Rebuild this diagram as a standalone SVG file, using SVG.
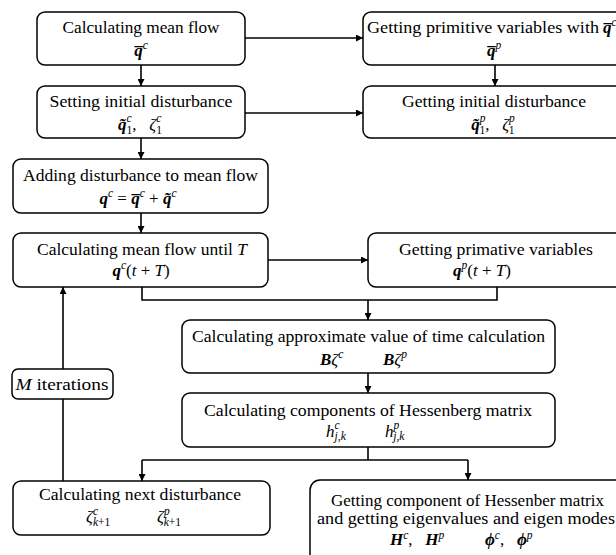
<svg xmlns="http://www.w3.org/2000/svg" width="616" height="555" viewBox="0 0 616 555">
<defs>
<style>
.box{fill:#fff;stroke:#000;stroke-width:1.5}
.t{font-family:"Liberation Serif",serif;font-size:17.3px;fill:#000;text-anchor:middle}
.m{font-family:"Liberation Serif",serif;font-size:17px;font-style:italic;fill:#000;text-anchor:middle}
.b{font-weight:bold}
.s{font-size:11.5px}
.ln{fill:none;stroke:#000;stroke-width:1.6}
</style>
<marker id="ah" viewBox="0 0 10 10" refX="10" refY="5" markerWidth="7" markerHeight="7" markerUnits="userSpaceOnUse" orient="auto">
<path d="M0,0 L10,5 L0,10 Z" fill="#000"/>
</marker>
</defs>
<rect width="616" height="555" fill="#fff"/>

<g id="connectors">
<path class="ln" d="M141,65 V86" marker-end="url(#ah)"/>
<path class="ln" d="M245,38 H363" marker-end="url(#ah)"/>
<path class="ln" d="M245,113 H363" marker-end="url(#ah)"/>
<path class="ln" d="M495,65 V86" marker-end="url(#ah)"/>
<path class="ln" d="M141,138 V159" marker-end="url(#ah)"/>
<path class="ln" d="M141,213 V233" marker-end="url(#ah)"/>
<path class="ln" d="M268,260 H368" marker-end="url(#ah)"/>
<path class="ln" d="M142,287 V300 H497 V287"/>
<path class="ln" d="M368,300 V320" marker-end="url(#ah)"/>
<path class="ln" d="M368,373 V393" marker-end="url(#ah)"/>
<path class="ln" d="M368,447 V460"/>
<path class="ln" d="M142,460 H468"/>
<path class="ln" d="M142,460 V481" marker-end="url(#ah)"/>
<path class="ln" d="M468,460 V480" marker-end="url(#ah)"/>
<path class="ln" d="M63,481 V399"/>
<path class="ln" d="M63,369 V287" marker-end="url(#ah)"/>
</g>

<g id="n1">
<rect class="box" x="37" y="12" width="208" height="53" rx="8"/>
<text class="t" x="141" y="33" textLength="157" lengthAdjust="spacingAndGlyphs">Calculating mean flow</text>
<text class="m" x="141" y="56"><tspan class="b">q̅</tspan><tspan class="s" dy="-7">c</tspan></text>
</g>

<g id="n2">
<rect class="box" x="37" y="86" width="208" height="52" rx="8"/>
<text class="t" x="141" y="107" textLength="183" lengthAdjust="spacingAndGlyphs">Setting initial disturbance</text>
<text class="m" x="140" y="130"><tspan class="b">q̃</tspan><tspan class="s" dy="-8">c</tspan><tspan class="s" dx="-5" dy="12" font-style="normal">1</tspan><tspan dy="-4" font-style="normal">,&#160;&#160;&#160;</tspan>ζ<tspan class="s" dy="-8">c</tspan><tspan class="s" dx="-5" dy="12" font-style="normal">1</tspan></text>
</g>

<g id="n3">
<rect class="box" x="363" y="12" width="262" height="53" rx="8"/>
<text class="t" x="367" y="33" style="text-anchor:start" textLength="232" lengthAdjust="spacingAndGlyphs">Getting primitive variables with</text>
<text class="m" x="603" y="33" style="text-anchor:start"><tspan class="b">q̅</tspan><tspan class="s" dy="-7">c</tspan></text>
<text class="m" x="494" y="56"><tspan class="b">q̅</tspan><tspan class="s" dy="-7">p</tspan></text>
</g>

<g id="n4">
<rect class="box" x="363" y="86" width="262" height="52" rx="8"/>
<text class="t" x="494" y="107" textLength="184" lengthAdjust="spacingAndGlyphs">Getting initial disturbance</text>
<text class="m" x="493" y="130"><tspan class="b">q̃</tspan><tspan class="s" dy="-8">p</tspan><tspan class="s" dx="-6" dy="12" font-style="normal">1</tspan><tspan dy="-4" font-style="normal">,&#160;&#160;&#160;</tspan>ζ<tspan class="s" dy="-8">p</tspan><tspan class="s" dx="-6" dy="12" font-style="normal">1</tspan></text>
</g>

<g id="n5">
<rect class="box" x="13" y="159" width="255" height="54" rx="8"/>
<text class="t" x="140.5" y="181" textLength="235" lengthAdjust="spacingAndGlyphs">Adding disturbance to mean flow</text>
<text class="m" x="138" y="204"><tspan class="b">q</tspan><tspan class="s" dy="-7">c</tspan><tspan dy="7" font-style="normal">&#160;=&#160;</tspan><tspan class="b">q̅</tspan><tspan class="s" dy="-7">c</tspan><tspan dy="7" font-style="normal">&#160;+&#160;</tspan><tspan class="b">q̃</tspan><tspan class="s" dy="-7">c</tspan></text>
</g>

<g id="n6">
<rect class="box" x="13" y="233" width="255" height="54" rx="8"/>
<text class="t" x="142" y="255" textLength="210" lengthAdjust="spacingAndGlyphs">Calculating mean flow until <tspan font-style="italic">T</tspan></text>
<text class="m" x="141" y="276"><tspan class="b">q</tspan><tspan class="s" dy="-7">c</tspan><tspan dy="7" font-style="normal">(</tspan>t<tspan font-style="normal">&#160;+&#160;</tspan>T<tspan font-style="normal">)</tspan></text>
</g>

<g id="n7">
<rect class="box" x="368" y="233" width="256" height="54" rx="8"/>
<text class="t" x="496" y="255" textLength="194" lengthAdjust="spacingAndGlyphs">Getting primative variables</text>
<text class="m" x="482" y="276"><tspan class="b">q</tspan><tspan class="s" dy="-7">p</tspan><tspan dy="7" font-style="normal">(</tspan>t<tspan font-style="normal">&#160;+&#160;</tspan>T<tspan font-style="normal">)</tspan></text>
</g>

<g id="n8">
<rect class="box" x="182" y="320" width="373" height="53" rx="8"/>
<text class="t" x="368.5" y="342" textLength="353" lengthAdjust="spacingAndGlyphs">Calculating approximate value of time calculation</text>
<text class="m" x="320" y="365" style="text-anchor:start"><tspan class="b">B</tspan>ζ<tspan class="s" dy="-7">c</tspan></text>
<text class="m" x="383" y="365" style="text-anchor:start"><tspan class="b">B</tspan>ζ<tspan class="s" dy="-7">p</tspan></text>
</g>

<g id="n9">
<rect class="box" x="182" y="393" width="373" height="54" rx="8"/>
<text class="t" x="368" y="416" textLength="328" lengthAdjust="spacingAndGlyphs">Calculating components of Hessenberg matrix</text>
<text class="m" x="326" y="437" style="text-anchor:start">h<tspan class="s" dy="-8">c</tspan><tspan class="s" dx="-5" dy="11">j,k</tspan></text>
<text class="m" x="385" y="437" style="text-anchor:start">h<tspan class="s" dy="-8">p</tspan><tspan class="s" dx="-6" dy="11">j,k</tspan></text>
</g>

<g id="n10">
<rect class="box" x="12" y="369" width="101" height="30" rx="6"/>
<text class="t" x="62" y="390" textLength="93" lengthAdjust="spacingAndGlyphs"><tspan font-style="italic">M</tspan> iterations</text>
</g>

<g id="n11">
<rect class="box" x="13" y="481" width="257" height="54" rx="8"/>
<text class="t" x="140" y="500" textLength="202" lengthAdjust="spacingAndGlyphs">Calculating next disturbance</text>
<text class="m" x="86" y="522" style="text-anchor:start">ζ<tspan class="s" dy="-7">c</tspan><tspan class="s" dx="-5" dy="11">k</tspan><tspan class="s" font-style="normal">+1</tspan></text>
<text class="m" x="157" y="522" style="text-anchor:start">ζ<tspan class="s" dy="-7">p</tspan><tspan class="s" dx="-6" dy="11">k</tspan><tspan class="s" font-style="normal">+1</tspan></text>
</g>

<g id="n12">
<rect class="box" x="310" y="480" width="316" height="90" rx="10"/>
<text class="t" x="467.5" y="506" textLength="273" lengthAdjust="spacingAndGlyphs">Getting component of Hessenber matrix</text>
<text class="t" x="466" y="524" textLength="298" lengthAdjust="spacingAndGlyphs">and getting eigenvalues and eigen modes</text>
<text class="m" x="390" y="545" style="text-anchor:start"><tspan class="b">H</tspan><tspan class="s" dy="-6">c</tspan><tspan dy="6" font-style="normal">,&#160;&#160;&#160;</tspan><tspan class="b">H</tspan><tspan class="s" dy="-6">p</tspan></text>
<text class="m" x="485" y="545" style="text-anchor:start"><tspan class="b">ϕ</tspan><tspan class="s" dy="-6">c</tspan><tspan dy="6" font-style="normal">,&#160;&#160;&#160;</tspan><tspan class="b">ϕ</tspan><tspan class="s" dy="-6">p</tspan></text>
</g>
</svg>
